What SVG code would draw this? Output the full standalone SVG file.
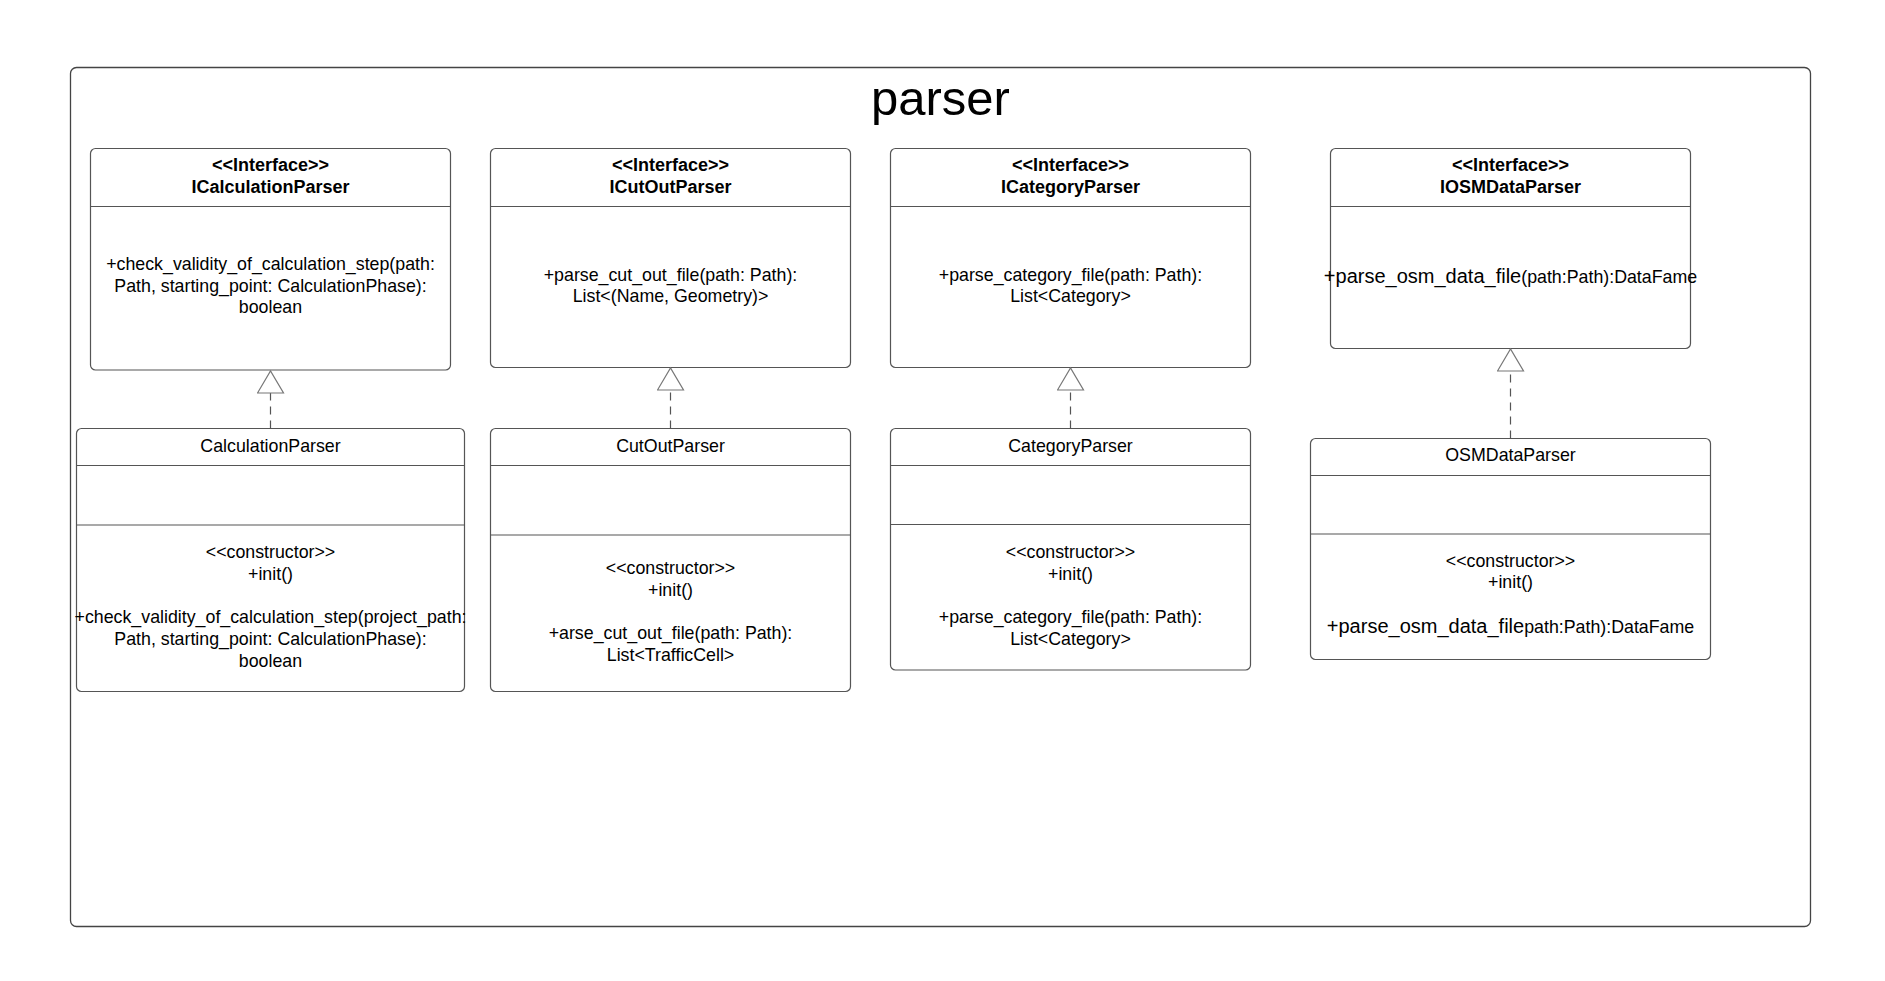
<svg xmlns="http://www.w3.org/2000/svg" width="1885" height="981" viewBox="0 0 1885 981">
<defs>
<style>
.frame{fill:#fff;stroke:#444;stroke-width:1.3}
.box{fill:#fff;stroke:#555;stroke-width:1.2}
.div{stroke:#555;stroke-width:1.2}
text{font-family:"Liberation Sans",Arial,sans-serif;fill:#000;text-anchor:middle}
.t{font-size:17.8px}
.b{font-size:18px;font-weight:bold}
.big{font-size:20px}
.title{font-size:49px}
.dash{stroke:#555;stroke-width:1.2;stroke-dasharray:8,6;fill:none}
</style>
<marker id="realize" markerUnits="userSpaceOnUse" viewBox="-1 -1 25 28" refX="22" refY="13" markerWidth="25" markerHeight="28" orient="auto">
<path d="M0,0 L22,13 L0,26 Z" fill="#fff" stroke="#777" stroke-width="1.2"/>
</marker>
</defs>
<rect width="1885" height="981" fill="#fff"/>
<g id="package-parser">
<rect class="frame" x="70.5" y="67.5" width="1740" height="859" rx="6"/>
<text class="title" x="940.5" y="115">parser</text>
</g>

<g id="ICalculationParser">
<rect class="box" x="90.5" y="148.5" width="360" height="221.5" rx="5"/>
<line class="div" x1="90.5" y1="206.5" x2="450.5" y2="206.5"/>
<text class="b" x="270.5" y="171">&lt;&lt;Interface&gt;&gt;</text>
<text class="b" x="270.5" y="192.5">ICalculationParser</text>
<text class="t" x="270.5" y="270">+check_validity_of_calculation_step(path:</text>
<text class="t" x="270.5" y="291.6">Path, starting_point: CalculationPhase):</text>
<text class="t" x="270.5" y="313.2">boolean</text>
</g>

<g id="ICutOutParser">
<rect class="box" x="490.5" y="148.5" width="360" height="219" rx="5"/>
<line class="div" x1="490.5" y1="206.5" x2="850.5" y2="206.5"/>
<text class="b" x="670.5" y="171">&lt;&lt;Interface&gt;&gt;</text>
<text class="b" x="670.5" y="192.5">ICutOutParser</text>
<text class="t" x="670.5" y="280.6">+parse_cut_out_file(path: Path):</text>
<text class="t" x="670.5" y="302.2">List&lt;(Name, Geometry)&gt;</text>
</g>

<g id="ICategoryParser">
<rect class="box" x="890.5" y="148.5" width="360" height="219" rx="5"/>
<line class="div" x1="890.5" y1="206.5" x2="1250.5" y2="206.5"/>
<text class="b" x="1070.5" y="171">&lt;&lt;Interface&gt;&gt;</text>
<text class="b" x="1070.5" y="192.5">ICategoryParser</text>
<text class="t" x="1070.5" y="280.6">+parse_category_file(path: Path):</text>
<text class="t" x="1070.5" y="302.2">List&lt;Category&gt;</text>
</g>

<g id="IOSMDataParser">
<rect class="box" x="1330.5" y="148.5" width="360" height="200" rx="5"/>
<line class="div" x1="1330.5" y1="206.5" x2="1690.5" y2="206.5"/>
<text class="b" x="1510.5" y="171">&lt;&lt;Interface&gt;&gt;</text>
<text class="b" x="1510.5" y="192.5">IOSMDataParser</text>
<text class="t" x="1510.5" y="283"><tspan class="big">+parse_osm_data_file</tspan>(path:Path):DataFame</text>
</g>

<g id="CalculationParser">
<rect class="box" x="76.5" y="428.5" width="388" height="263" rx="5"/>
<line class="div" x1="76.5" y1="465.5" x2="464.5" y2="465.5"/>
<line class="div" x1="76.5" y1="525" x2="464.5" y2="525"/>
<text class="t" x="270.5" y="451.5">CalculationParser</text>
<text class="t" x="270.5" y="558.3">&lt;&lt;constructor&gt;&gt;</text>
<text class="t" x="270.5" y="580">+init()</text>
<text class="t" x="270.5" y="623.2">+check_validity_of_calculation_step(project_path:</text>
<text class="t" x="270.5" y="644.9">Path, starting_point: CalculationPhase):</text>
<text class="t" x="270.5" y="666.5">boolean</text>
</g>

<g id="CutOutParser">
<rect class="box" x="490.5" y="428.5" width="360" height="263" rx="5"/>
<line class="div" x1="490.5" y1="465.5" x2="850.5" y2="465.5"/>
<line class="div" x1="490.5" y1="535" x2="850.5" y2="535"/>
<text class="t" x="670.5" y="451.5">CutOutParser</text>
<text class="t" x="670.5" y="574">&lt;&lt;constructor&gt;&gt;</text>
<text class="t" x="670.5" y="595.6">+init()</text>
<text class="t" x="670.5" y="638.9">+arse_cut_out_file(path: Path):</text>
<text class="t" x="670.5" y="660.5">List&lt;TrafficCell&gt;</text>
</g>

<g id="CategoryParser">
<rect class="box" x="890.5" y="428.5" width="360" height="241.5" rx="5"/>
<line class="div" x1="890.5" y1="465.5" x2="1250.5" y2="465.5"/>
<line class="div" x1="890.5" y1="524.5" x2="1250.5" y2="524.5"/>
<text class="t" x="1070.5" y="451.5">CategoryParser</text>
<text class="t" x="1070.5" y="558.3">&lt;&lt;constructor&gt;&gt;</text>
<text class="t" x="1070.5" y="580">+init()</text>
<text class="t" x="1070.5" y="623.2">+parse_category_file(path: Path):</text>
<text class="t" x="1070.5" y="644.9">List&lt;Category&gt;</text>
</g>

<g id="OSMDataParser">
<rect class="box" x="1310.5" y="438.5" width="400" height="221" rx="5"/>
<line class="div" x1="1310.5" y1="475.5" x2="1710.5" y2="475.5"/>
<line class="div" x1="1310.5" y1="534" x2="1710.5" y2="534"/>
<text class="t" x="1510.5" y="461">OSMDataParser</text>
<text class="t" x="1510.5" y="566.7">&lt;&lt;constructor&gt;&gt;</text>
<text class="t" x="1510.5" y="588.4">+init()</text>
<text class="t" x="1510.5" y="633"><tspan class="big">+parse_osm_data_file</tspan>path:Path):DataFame</text>
</g>

<g id="connectors">
<line class="dash" x1="270.5" y1="428.5" x2="270.5" y2="371" marker-end="url(#realize)"/>
<line class="dash" x1="670.5" y1="428.5" x2="670.5" y2="368" marker-end="url(#realize)"/>
<line class="dash" x1="1070.5" y1="428.5" x2="1070.5" y2="368" marker-end="url(#realize)"/>
<line class="dash" x1="1510.5" y1="438.5" x2="1510.5" y2="349" marker-end="url(#realize)"/>
</g>
</svg>
